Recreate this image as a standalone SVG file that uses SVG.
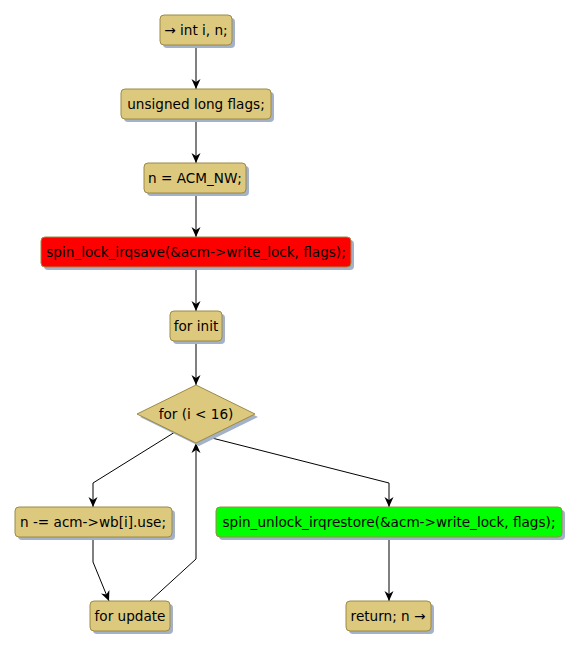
<svg xmlns="http://www.w3.org/2000/svg" width="580" height="650" viewBox="0 0 580 650">
<defs>
<marker id="ah" viewBox="0 0 10 10" refX="10" refY="5" markerWidth="10" markerHeight="10" markerUnits="userSpaceOnUse" orient="auto">
<path d="M0,0.5 L10,5 L0,9.5 L3,5 Z" fill="#000"/>
</marker>
</defs>
<style>
.sh{fill:#A3B1C9}
.b{fill:#DDC97D;stroke:#9C8A45;stroke-width:1}
.t{font-family:"DejaVu Sans",sans-serif;font-size:13.6px;fill:#000}
.e{fill:none;stroke:#000;stroke-width:1;marker-end:url(#ah)}
.l{fill:none;stroke:#000;stroke-width:1}
</style>
<rect width="580" height="650" fill="#fff"/>
<g id="connectors">
<line class="e" x1="196" y1="45" x2="196" y2="89"/>
<line class="e" x1="196" y1="119" x2="196" y2="163"/>
<line class="e" x1="196" y1="193" x2="196" y2="237"/>
<line class="e" x1="196" y1="267" x2="196" y2="311"/>
<line class="e" x1="196" y1="341" x2="196" y2="385"/>
<polyline class="e" points="175,432 93,483 93,507"/>
<polyline class="e" points="208,437 389,483 389,507"/>
<polyline class="e" points="93,537 93,562 109,601"/>
<polyline class="e" points="150,601 196,559 196,443"/>
<line class="e" x1="389" y1="537" x2="389" y2="601"/>
</g>
<g id="n1">
<rect class="sh" x="163" y="18" width="72" height="30" rx="4"/>
<rect class="b" x="160" y="15" width="72" height="30" rx="4"/>
<text class="t" x="196" y="35" text-anchor="middle">→ int i, n;</text>
</g>
<g id="n2">
<rect class="sh" x="124" y="92" width="150" height="30" rx="4"/>
<rect class="b" x="121" y="89" width="150" height="30" rx="4"/>
<text class="t" x="196" y="109" text-anchor="middle">unsigned long flags;</text>
</g>
<g id="n3">
<rect class="sh" x="147" y="166" width="102" height="30" rx="4"/>
<rect class="b" x="144" y="163" width="102" height="30" rx="4"/>
<text class="t" x="195" y="183" text-anchor="middle">n = ACM_NW;</text>
</g>
<g id="n4">
<rect class="sh" x="44" y="240" width="310" height="30" rx="4"/>
<rect x="41" y="237" width="310" height="30" rx="4" fill="#FF0000" stroke="#9C8A45"/>
<text class="t" x="196" y="257" text-anchor="middle">spin_lock_irqsave(&amp;acm-&gt;write_lock, flags);</text>
</g>
<g id="n5">
<rect class="sh" x="173" y="314" width="52" height="30" rx="4"/>
<rect class="b" x="170" y="311" width="52" height="30" rx="4"/>
<text class="t" x="196" y="331" text-anchor="middle">for init</text>
</g>
<g id="d1">
<polygon class="sh" points="140,417 199,388 258,417 199,446"/>
<polygon class="b" points="137,414 196,385 255,414 196,443"/>
<text class="t" x="196" y="419" text-anchor="middle">for (i &lt; 16)</text>
</g>
<g id="n6">
<rect class="sh" x="18" y="510" width="157" height="30" rx="4"/>
<rect class="b" x="15" y="507" width="157" height="30" rx="4"/>
<text class="t" x="93" y="527" text-anchor="middle">n -= acm-&gt;wb[i].use;</text>
</g>
<g id="n7">
<rect class="sh" x="93" y="604" width="80" height="30" rx="4"/>
<rect class="b" x="90" y="601" width="80" height="30" rx="4"/>
<text class="t" x="130" y="621" text-anchor="middle">for update</text>
</g>
<g id="n8">
<rect class="sh" x="219" y="510" width="346" height="30" rx="4"/>
<rect x="216" y="507" width="346" height="30" rx="4" fill="#00FF00" stroke="#9C8A45"/>
<text class="t" x="389" y="527" text-anchor="middle">spin_unlock_irqrestore(&amp;acm-&gt;write_lock, flags);</text>
</g>
<g id="n9">
<rect class="sh" x="349" y="604" width="85" height="30" rx="4"/>
<rect class="b" x="346" y="601" width="85" height="30" rx="4"/>
<text class="t" x="388" y="621" text-anchor="middle">return; n →</text>
</g>
</svg>
